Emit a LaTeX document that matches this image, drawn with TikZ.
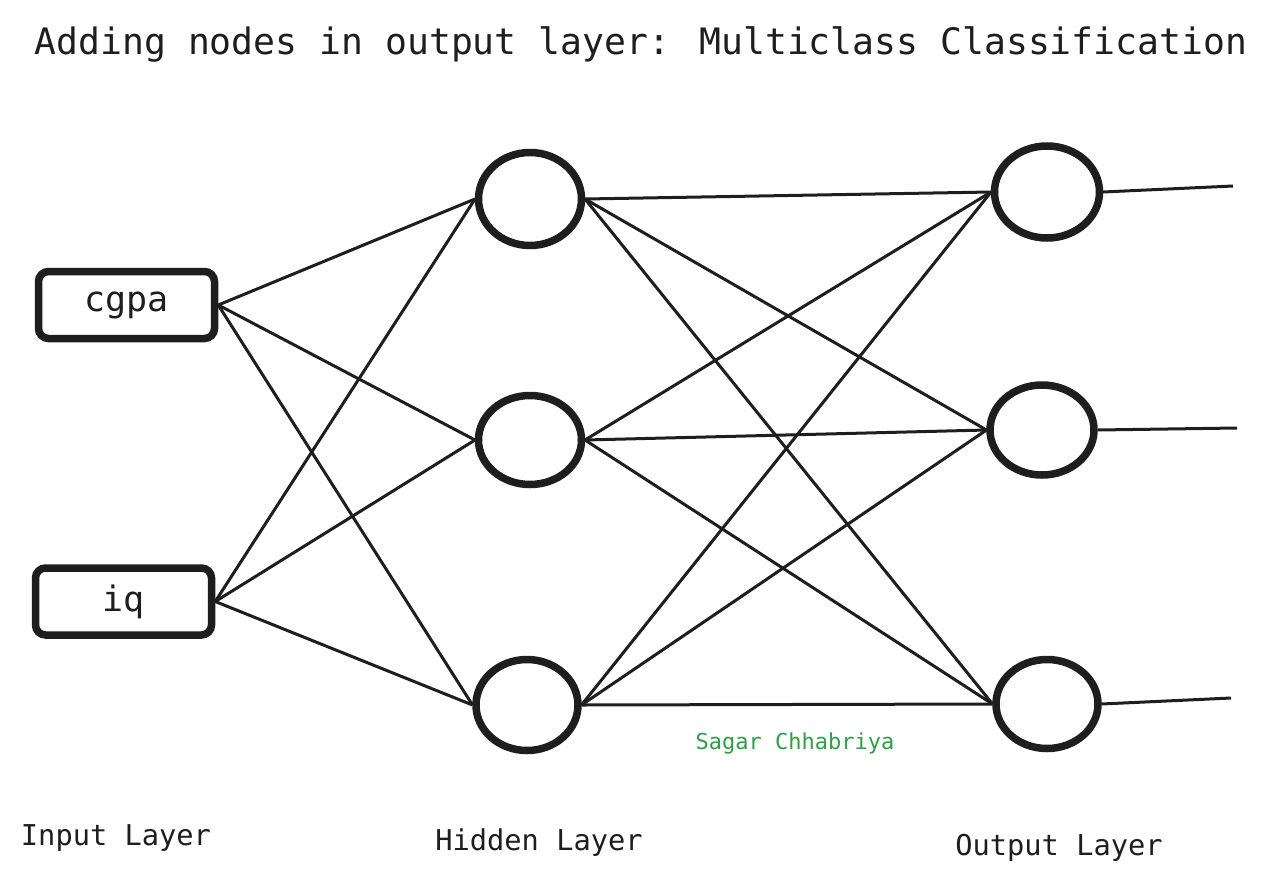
\documentclass[tikz,border=0pt]{standalone}
\usepackage{fontspec}
\setmainfont{DejaVu Sans Mono}
\definecolor{ink}{HTML}{1E1E1E}
\definecolor{sig}{HTML}{2F9E44}
\begin{document}
\begin{tikzpicture}[x=1pt,y=-1pt,
  inbox/.style={draw=ink,line width=7.5pt,rounded corners=10pt,minimum width=176pt,minimum height=67pt,inner sep=0pt,font=\fontsize{35}{40}\selectfont,text=ink},
  edge/.style={draw=ink,line width=3pt},
  lbl/.style={font=\fontsize{28.7}{32}\selectfont,text=ink,inner sep=0pt}]
\useasboundingbox (0,0) rectangle (1265,889);
\node[lbl,font=\fontsize{36.4}{40}\selectfont] (title) at (641,44) {Adding nodes in output layer: Multiclass Classification};
\node[inbox] (cgpa) at (126.5,305) {cgpa};
\node[inbox] (iq) at (123.5,601.5) {iq};
\foreach \n/\x/\y/\w/\h in {h1/530/199/103/93, h2/530/440/103/89, h3/527/705/102/91,
  o1/1047/192/105/92, o2/1042/430/104/90, o3/1047/704/102/89}{
  \draw[ink,line width=7.5pt] (\x,\y) ellipse [x radius=\w/2, y radius=\h/2];
  \coordinate (\n w) at (\x-\w/2-3.5,\y);
  \coordinate (\n e) at (\x+\w/2+3.5,\y);
}
\foreach \s in {cgpa,iq}{
  \foreach \t in {h1,h2,h3}{
    \draw[edge] (\s.east) -- (\t w);
  }
}
\foreach \s in {h1,h2,h3}{
  \foreach \t in {o1,o2,o3}{
    \draw[edge] (\s e) -- (\t w);
  }
}
\coordinate (y1) at (1233,186);
\coordinate (y2) at (1237,428);
\coordinate (y3) at (1231,698);
\draw[edge] (o1e) -- (y1);
\draw[edge] (o2e) -- (y2);
\draw[edge] (o3e) -- (y3);
\node[lbl] (lin) at (116,838) {Input Layer};
\node[lbl] (lhid) at (539,843) {Hidden Layer};
\node[lbl] (lout) at (1059,848) {Output Layer};
\node[font=\fontsize{22}{24}\selectfont,text=sig,inner sep=0pt] (sign) at (795,743) {Sagar Chhabriya};
\end{tikzpicture}
\end{document}
